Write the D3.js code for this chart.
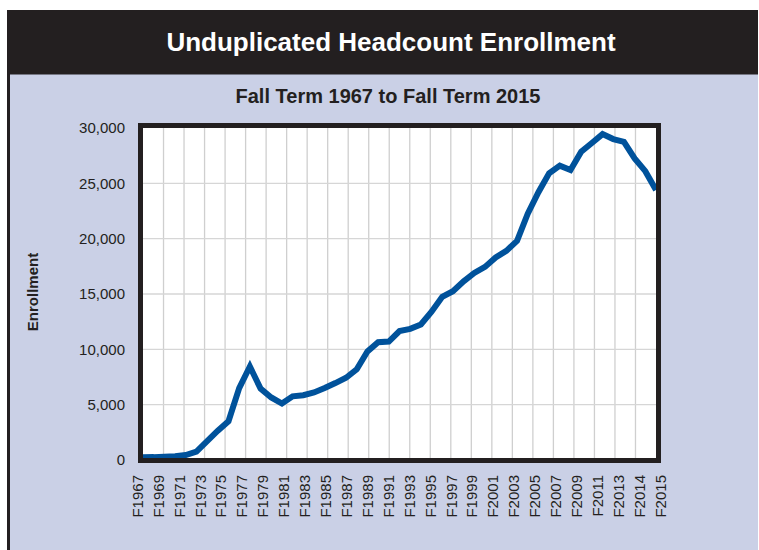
<!DOCTYPE html>
<html>
<head>
<meta charset="utf-8">
<script src="https://cdn.jsdelivr.net/npm/d3@7"></script>
<style>
  body { margin: 0; background: #ffffff; }
  svg { display: block; font-family: "Liberation Sans", Arial, Helvetica, sans-serif; }
</style>
</head>
<body>
<div id="chart"></div>
<script>
// Fall terms, 1967 to 2015
const years = d3.range(1967, 2016);

// Enrollment, one per fall term
const enrollment = [
  250, 260, 300, 350, 450, 750, 1700, 2650, 3500, 6500,
  8450, 6450, 5650, 5100, 5750, 5850, 6100, 6500, 6950, 7430,
  8200, 9800, 10650, 10700, 11650, 11850, 12250, 13400, 14750, 15250,
  16150, 16900, 17450, 18300, 18900, 19800, 22250, 24200, 25900, 26600,
  26200, 27850, 28650, 29450, 29000, 28750, 27250, 26100, 24400
];

// Axis labels as printed on the chart
const xLabels = [
  "F1967", "F1969", "F1971", "F1973", "F1975", "F1977", "F1979", "F1981",
  "F1983", "F1985", "F1987", "F1989", "F1991", "F1993", "F1995", "F1997",
  "F1999", "F2001", "F2003", "F2005", "F2007", "F2009", "F2011", "F2013",
  "F2014", "F2015"
];
const yTicks = [0, 5000, 10000, 15000, 20000, 25000, 30000];

const width = 759;
const height = 550;
const plot = { left: 143, right: 656, top: 128, bottom: 460 };

const dark = "#231f20";
const panel = "#cad0e6";

const svg = d3.select("#chart")
  .append("svg")
  .attr("width", width)
  .attr("height", height);

// Background panel and title bar
svg.append("rect")
  .attr("x", 7).attr("y", 74)
  .attr("width", 751).attr("height", height - 74)
  .attr("fill", panel);

svg.append("rect")
  .attr("x", 7).attr("y", 74)
  .attr("width", 3).attr("height", height - 74)
  .attr("fill", dark);

svg.append("rect")
  .attr("x", 7).attr("y", 10)
  .attr("width", 751).attr("height", 64.5)
  .attr("fill", dark);

svg.append("text")
  .attr("x", 391).attr("y", 51)
  .attr("text-anchor", "middle")
  .attr("fill", "#ffffff")
  .style("font-size", "26px")
  .style("font-weight", "bold")
  .text("Unduplicated Headcount Enrollment");

svg.append("text")
  .attr("x", 388).attr("y", 103)
  .attr("text-anchor", "middle")
  .attr("fill", dark)
  .style("font-size", "20px")
  .style("font-weight", "bold")
  .text("Fall Term 1967 to Fall Term 2015");

// Scales
const x = d3.scaleLinear()
  .domain([0, years.length - 1])
  .range([plot.left, plot.right]);

const y = d3.scaleLinear()
  .domain([0, 30000])
  .range([plot.bottom, plot.top]);

const gridX = d3.scalePoint()
  .domain(xLabels)
  .range([plot.left, plot.right]);

const labelX = d3.scalePoint()
  .domain(xLabels)
  .range([137, 660]);

// Plot area
svg.append("rect")
  .attr("x", plot.left).attr("y", plot.top)
  .attr("width", plot.right - plot.left)
  .attr("height", plot.bottom - plot.top)
  .attr("fill", "#ffffff");

// Gridlines
svg.append("g")
  .selectAll("line")
  .data(xLabels.slice(1, -1))
  .join("line")
  .attr("x1", d => gridX(d)).attr("x2", d => gridX(d))
  .attr("y1", plot.top).attr("y2", plot.bottom)
  .attr("stroke", "#cfcfcf")
  .attr("stroke-width", 1.3);

svg.append("g")
  .selectAll("line")
  .data(yTicks.slice(1, -1))
  .join("line")
  .attr("x1", plot.left).attr("x2", plot.right)
  .attr("y1", d => y(d)).attr("y2", d => y(d))
  .attr("stroke", "#d6d6d6")
  .attr("stroke-width", 1.3);

// Enrollment line
const line = d3.line()
  .x((d, i) => x(i))
  .y(d => y(d));

svg.append("path")
  .datum(enrollment)
  .attr("d", line)
  .attr("fill", "none")
  .attr("stroke", "#00529b")
  .attr("stroke-width", 6)
  .attr("stroke-linejoin", "miter");

// Frame
svg.append("rect")
  .attr("x", plot.left - 2.5).attr("y", plot.top - 2.5)
  .attr("width", plot.right - plot.left + 5)
  .attr("height", plot.bottom - plot.top + 3)
  .attr("fill", "none")
  .attr("stroke", dark)
  .attr("stroke-width", 5);

// Y axis labels
const yAxis = svg.append("g")
  .attr("transform", `translate(${plot.left - 18}, 0)`)
  .call(d3.axisLeft(y).tickValues(yTicks).tickSize(0).tickPadding(0).tickFormat(d3.format(",")));

yAxis.select(".domain").remove();
yAxis.selectAll("text")
  .attr("fill", dark)
  .style("font-size", "15px")
  .style("font-family", "\"Liberation Sans\", Arial, sans-serif");

svg.append("text")
  .attr("transform", "translate(33, 292) rotate(-90)")
  .attr("text-anchor", "middle")
  .attr("dy", "0.35em")
  .attr("fill", dark)
  .style("font-size", "15px")
  .style("font-weight", "bold")
  .text("Enrollment");

// X axis labels
const xAxis = svg.append("g")
  .attr("transform", "translate(0, 475)")
  .call(d3.axisBottom(labelX).tickSize(0).tickPadding(0));

xAxis.select(".domain").remove();
xAxis.selectAll("text")
  .attr("transform", "rotate(-90)")
  .attr("x", 0)
  .attr("y", 0)
  .attr("dy", "0.35em")
  .attr("text-anchor", "end")
  .attr("fill", dark)
  .style("font-size", "15px")
  .style("font-family", "\"Liberation Sans\", Arial, sans-serif");
</script>
</body>
</html>
